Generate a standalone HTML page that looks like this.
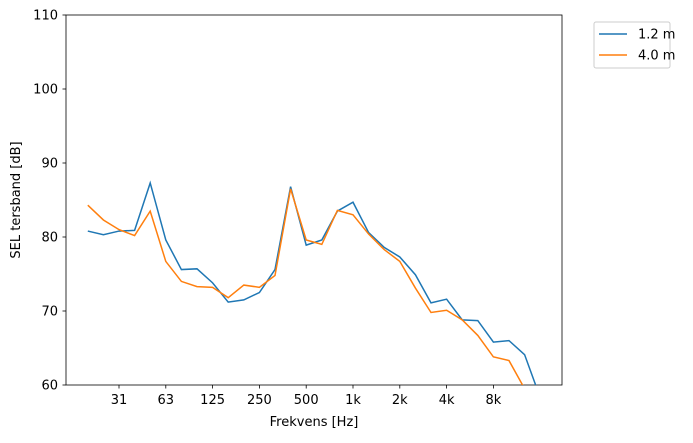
<!DOCTYPE html>
<html><head><meta charset="utf-8"><style>
body{margin:0;background:#fff;font-family:"Liberation Sans","DejaVu Sans",sans-serif;}
svg text{font-family:"DejaVu Sans","Liberation Sans",sans-serif;font-size:13px;fill:#000}
</style></head><body>
<svg id="chart" width="693" height="438">
<defs><clipPath id="clip"><rect x="66" y="15" width="496" height="370"/></clipPath></defs>
<rect x="66" y="15" width="496" height="370" fill="#fff" stroke="#000" stroke-width="0.8"/>
<g id="axes"></g>
<g id="series" clip-path="url(#clip)"></g>
<text x="314" y="426" text-anchor="middle">Frekvens [Hz]</text>
<text x="20" y="200" text-anchor="middle" transform="rotate(-90 20 200)">SEL tersband [dB]</text>
<g>
<rect x="594" y="22" width="76" height="46" rx="2" fill="#fff" stroke="#ccc"/>
<g><line x1="599" y1="34" x2="627" y2="34" stroke="#1f77b4" stroke-width="1.5"/><text x="638" y="38.5">1.2 m</text></g>
<g><line x1="599" y1="55" x2="627" y2="55" stroke="#ff7f0e" stroke-width="1.5"/><text x="638" y="59.5">4.0 m</text></g>
</g>
</svg>
<script>
const bandIndex=[...Array(30).keys()]; // third-octave bands from 20 Hz
const blue=[80.8,80.3,80.8,80.9,87.3,79.6,75.6,75.7,73.8,71.2,71.5,72.5,75.6,86.8,78.9,79.6,83.5,84.7,80.6,78.6,77.3,74.9,71.1,71.6,68.8,68.7,65.8,66.0,64.1,58.3];
const orange=[84.3,82.3,81.0,80.2,83.5,76.7,74.0,73.3,73.2,71.8,73.5,73.2,74.8,86.5,79.6,79.0,83.6,83.0,80.4,78.3,76.7,73.1,69.8,70.1,68.8,66.7,63.8,63.3,59.5,56];
const xTickLabels=["31","63","125","250","500","1k","2k","4k","8k"];
const xTickIdx=[2,5,8,11,14,17,20,23,26];
const yTicks=[60,70,80,90,100,110];
const ns="http://www.w3.org/2000/svg";
const x=i=>87.8+i*15.6;
const y=v=>385-(v-60)*7.4;
const axes=document.getElementById('axes'),ser=document.getElementById('series');
function mk(t,a,p){const e=document.createElementNS(ns,t);for(const k in a)e.setAttribute(k,a[k]);p.appendChild(e);return e;}
xTickIdx.forEach((ix,j)=>{
 const l=mk('line',{x1:x(ix),x2:x(ix),y1:385,y2:388.5,stroke:'#000','stroke-width':0.8},axes);
 
 
 const t=mk('text',{x:x(ix),y:404,'text-anchor':'middle'},axes);t.textContent=xTickLabels[j];
 
 
});
yTicks.forEach(v=>{
 const l=mk('line',{x1:62.5,x2:66,y1:y(v),y2:y(v),stroke:'#000','stroke-width':0.8},axes);
 
 
 const t=mk('text',{x:58,y:y(v)+4.5,'text-anchor':'end'},axes);t.textContent=v;
 
 
});
[[blue,'#1f77b4','series-1-2m'],[orange,'#ff7f0e','series-4-0m']].forEach(([d,c,n])=>{
 const p=mk('polyline',{points:d.map((v,i)=>x(bandIndex[i])+','+y(v)).join(' '),fill:'none',stroke:c,'stroke-width':1.5},ser);
 
 
});
</script>
</body></html>
